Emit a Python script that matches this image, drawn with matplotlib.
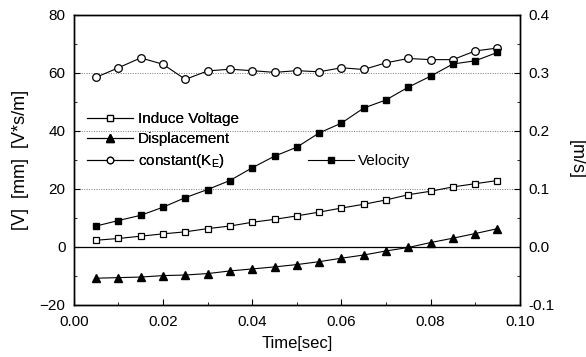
import numpy as np
import matplotlib
matplotlib.use("Agg")
import matplotlib.pyplot as plt
from matplotlib.ticker import MultipleLocator

plt.rcParams['font.family'] = ['Liberation Sans', 'DejaVu Sans']
plt.rcParams['mathtext.fontset'] = 'custom'
plt.rcParams['mathtext.rm'] = 'Liberation Sans'

t = [0.005, 0.010, 0.015, 0.020, 0.025, 0.030, 0.035, 0.040, 0.045, 0.050,
     0.055, 0.060, 0.065, 0.070, 0.075, 0.080, 0.085, 0.090, 0.095]

induce_voltage = [2.3, 2.9, 3.7, 4.5, 5.2, 6.3, 7.2, 8.5, 9.5, 10.7,
                  12.0, 13.4, 14.7, 16.2, 18.0, 19.2, 20.7, 21.8, 22.9]
displacement = [-10.8, -10.6, -10.4, -9.9, -9.7, -9.2, -8.3, -7.6, -6.9, -6.1,
                -5.1, -3.9, -2.8, -1.4, -0.2, 1.5, 3.0, 4.6, 6.3]
constant_ke = [58.5, 61.8, 65.2, 63.0, 57.8, 60.7, 61.3, 60.8, 60.2, 60.8,
               60.4, 61.8, 61.2, 63.5, 65.0, 64.6, 64.6, 67.6, 68.6]
velocity = [0.036, 0.0455, 0.0545, 0.0685, 0.085, 0.099, 0.1145, 0.1365, 0.1565, 0.172,
            0.1965, 0.2135, 0.2395, 0.2535, 0.2755, 0.2945, 0.3155, 0.321, 0.3355]

fig = plt.figure(figsize=(5.86, 3.57), dpi=100)
ax = fig.add_axes([0.126, 0.146, 0.761, 0.812])
ax2 = ax.twinx()

# grid and zero line
for g in [20, 40, 60]:
    ax.axhline(g, color='#777777', lw=0.7, ls=(0, (1, 1.5)), zorder=0)
ax.axhline(0, color='black', lw=0.9, zorder=1)

l1, = ax.plot(t, induce_voltage, '-s', color='black', mfc='white', mec='black',
              ms=5, lw=0.8, mew=0.9, label='Induce Voltage')
l2, = ax.plot(t, displacement, '-^', color='black', mfc='black',
              ms=6, lw=0.8, label='Displacement')
l3, = ax.plot(t, constant_ke, '-o', color='black', mfc='white', mec='black',
              ms=5.5, lw=0.8, mew=0.9, label=r'constant(K$_\mathrm{E}$)')
l4, = ax2.plot(t, velocity, '-s', color='black', mfc='black',
               ms=5, lw=0.8, label='Velocity')

ax.set_xlim(0, 0.1)
ax.set_ylim(-20, 80)
ax2.set_ylim(-0.1, 0.4)

ax.xaxis.set_major_locator(MultipleLocator(0.02))
ax.xaxis.set_minor_locator(MultipleLocator(0.01))
ax.yaxis.set_major_locator(MultipleLocator(20))
ax.yaxis.set_minor_locator(MultipleLocator(10))
ax2.yaxis.set_major_locator(MultipleLocator(0.1))
ax2.yaxis.set_minor_locator(MultipleLocator(0.05))

ax.xaxis.set_major_formatter(plt.FuncFormatter(lambda v, p: f"{v:.2f}"))
ax2.yaxis.set_major_formatter(plt.FuncFormatter(lambda v, p: f"{v:.1f}"))

ax.tick_params(axis='both', which='both', direction='in', labelsize=11, top=False)
ax.tick_params(which='major', length=4)
ax.tick_params(which='minor', length=2)
ax.tick_params(axis='x', pad=7)
ax.tick_params(axis='y', right=False, pad=6)
ax2.tick_params(axis='y', which='both', direction='in', labelsize=11, pad=6)
ax2.tick_params(which='major', length=4)
ax2.tick_params(which='minor', length=2)

for a in (ax, ax2):
    for s in a.spines.values():
        s.set_linewidth(1.0)

ax.set_xlabel('Time[sec]', fontsize=12, labelpad=5)
ax.set_ylabel('[V]  [mm]  [V*s/m]', fontsize=13, labelpad=8)
ax2.set_ylabel('[m/s]', fontsize=13, rotation=270, labelpad=22)

leg1 = ax.legend(handles=[l1, l2, l3], loc='upper left', bbox_to_anchor=(0.03, 0.665),
                 frameon=False, fontsize=11, handlelength=3, handletextpad=0.3,
                 labelspacing=0.4, borderpad=0, borderaxespad=0, markerscale=0.85)
ax.add_artist(leg1)
ax2.legend(handles=[l4], loc='upper left', bbox_to_anchor=(0.525, 0.52),
           frameon=False, fontsize=11, handlelength=3, handletextpad=0.3,
           borderpad=0, borderaxespad=0, markerscale=0.85)

fig.savefig('out.png', dpi=100)
